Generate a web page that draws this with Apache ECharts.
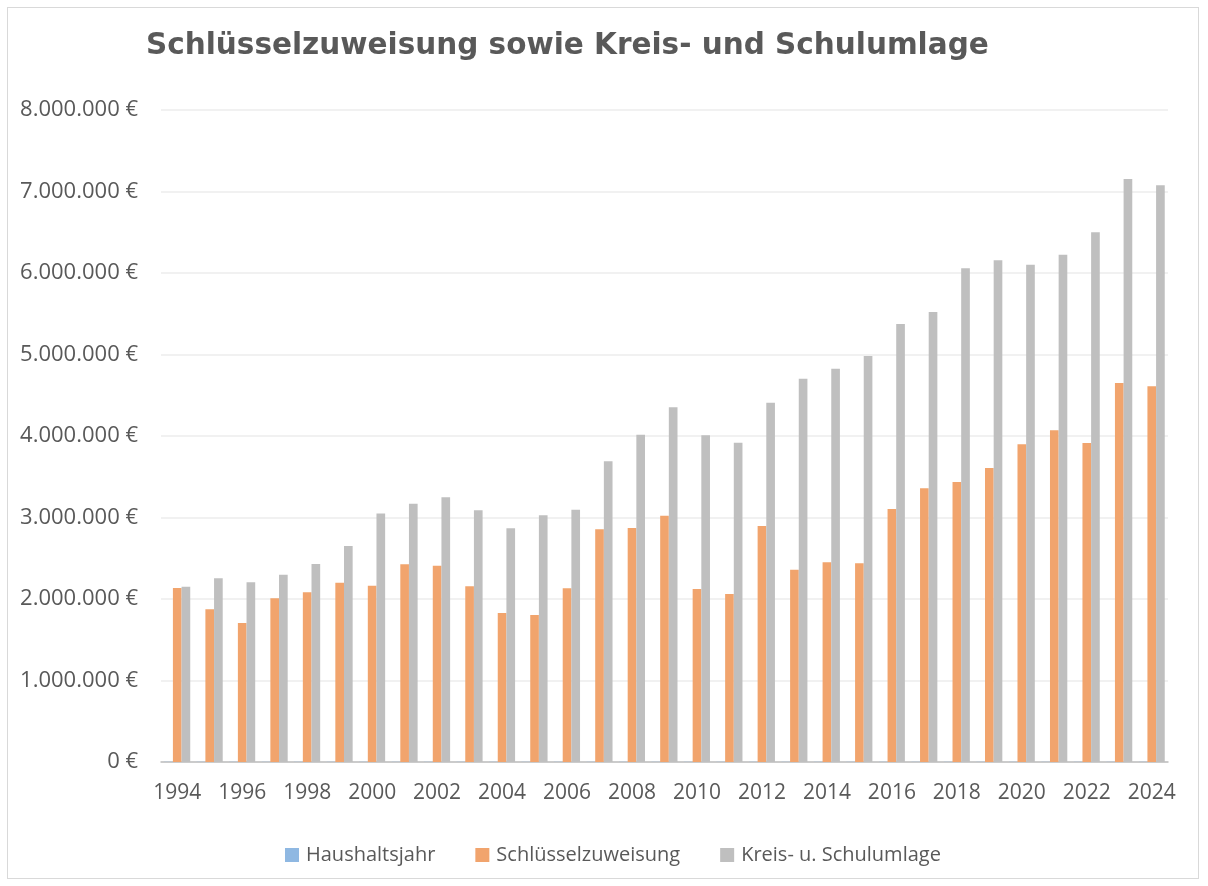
<!DOCTYPE html>
<html>
<head>
<meta charset="utf-8">
<script src="https://cdn.jsdelivr.net/npm/echarts@6/dist/echarts.min.js"></script>
<style>
  html, body { margin: 0; padding: 0; background: #fff; }
  #frame { position: absolute; left: 7px; top: 7px; width: 1192px; height: 872px; border: 1px solid #d9d9d9; box-sizing: border-box; }
  #chart { position: absolute; left: 0; top: 0; width: 1208px; height: 886px; }
</style>
</head>
<body>
<div id="frame"></div>
<div id="chart"></div>
<script>
// Haushaltsjahre (Kategorien)
const years = [
  '1994', '1995', '1996', '1997', '1998', '1999', '2000', '2001', '2002', '2003', '2004',
  '2005', '2006', '2007', '2008', '2009', '2010', '2011', '2012', '2013', '2014',
  '2015', '2016', '2017', '2018', '2019', '2020', '2021', '2022', '2023', '2024'
];
// Serie "Haushaltsjahr" – im Original mitgeplottet, praktisch unsichtbar
const haushaltsjahr = years.map(Number);
// Schlüsselzuweisung in €
const schluesselzuweisung = [
  2135000, 1873000, 1705000, 2008000, 2082000, 2200000, 2163000, 2425000, 2408000, 2156000, 1828000,
  1804000, 2131000, 2855000, 2871000, 3022000, 2123000, 2061000, 2896000, 2360000, 2450000,
  2438000, 3104000, 3360000, 3435000, 3607000, 3900000, 4070000, 3915000, 4650000, 4610000
];
// Kreis- u. Schulumlage in €
const kreisSchulumlage = [
  2151000, 2254000, 2205000, 2299000, 2430000, 2650000, 3050000, 3170000, 3248000, 3088000, 2867000,
  3027000, 3096000, 3690000, 4016000, 4352000, 4008000, 3918000, 4409000, 4703000, 4826000,
  4982000, 5374000, 5521000, 6057000, 6155000, 6102000, 6225000, 6499000, 7153000, 7076000
];

const TEXT_COLOR = '#595959';
const FONT = '"Open Sans", "Noto Sans", sans-serif';

// Tausenderpunkte + Eurozeichen
function formatEuro(v) {
  return String(Math.round(v)).replace(/\B(?=(\d{3})+(?!\d))/g, '.') + ' €';
}

const chart = echarts.init(document.getElementById('chart'), null, { renderer: 'canvas' });

chart.setOption({
  animation: false,
  title: {
    text: 'Schlüsselzuweisung sowie Kreis- und Schulumlage',
    left: 141,
    top: 26,
    textStyle: { fontFamily: '"DejaVu Sans", sans-serif', fontSize: 29.5, fontWeight: 'bold', color: TEXT_COLOR }
  },
  legend: {
    top: 840,
    left: 280,
    itemWidth: 14,
    itemHeight: 14,
    itemGap: 40,
    icon: 'rect',
    textStyle: { fontFamily: FONT, fontSize: 20, color: TEXT_COLOR, padding: [0, 0, 0, 2] }
  },
  grid: { left: 161, right: 40, top: 110, bottom: 124, containLabel: false },
  xAxis: {
    type: 'category',
    data: years,
    axisLine: { lineStyle: { color: '#bfbfbf', width: 1.5 } },
    axisTick: { interval: 1, length: 6, lineStyle: { color: '#bfbfbf', width: 1.5 } },
    axisLabel: { interval: 1, color: TEXT_COLOR, fontFamily: FONT, fontSize: 21, margin: 21 }
  },
  yAxis: {
    type: 'value',
    min: 0,
    max: 8000000,
    interval: 1000000,
    axisLine: { show: false },
    axisTick: { show: false },
    splitLine: { lineStyle: { color: '#ececec', width: 1.5 } },
    axisLabel: { color: TEXT_COLOR, fontFamily: FONT, fontSize: 22, margin: 23, formatter: formatEuro }
  },
  series: [
    { name: 'Haushaltsjahr', type: 'bar', data: haushaltsjahr, barGap: '0%', barCategoryGap: '20%', itemStyle: { color: '#8fb8e2' } },
    { name: 'Schlüsselzuweisung', type: 'bar', data: schluesselzuweisung, itemStyle: { color: '#f1a46d' } },
    { name: 'Kreis- u. Schulumlage', type: 'bar', data: kreisSchulumlage, itemStyle: { color: '#bfbfbf' } }
  ]
});
</script>
</body>
</html>
